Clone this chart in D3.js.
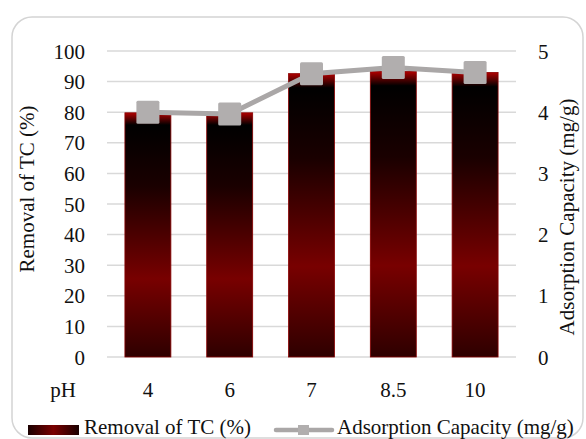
<!DOCTYPE html>
<html>
<head>
<meta charset="utf-8">
<script src="https://cdn.jsdelivr.net/npm/d3@7"></script>
<style>
  html, body { margin: 0; padding: 0; background: #fff; }
  svg { display: block; }
  svg text { font-family: 'Liberation Serif', 'DejaVu Serif', serif !important; fill: #111; }
</style>
</head>
<body>
<svg id="chart" width="586" height="439" font-family="Liberation Serif"></svg>
<script>
// pH values tested
const categories = ["4", "6", "7", "8.5", "10"];
// Removal of TC (%) — bars, left axis
const removal = [79.8, 79.8, 92.6, 93.3, 93.0];
// Adsorption capacity (mg/g) — line, right axis
const capacity = [4.0, 3.97, 4.63, 4.73, 4.65];
const leftTicks = [0, 10, 20, 30, 40, 50, 60, 70, 80, 90, 100];
const rightTicks = [0, 1, 2, 3, 4, 5];

const FONT = "'Liberation Serif', 'DejaVu Serif', serif";
const FS = "21px";
const svg = d3.select("#chart");
const plot = { left: 107, right: 516, top: 51, bottom: 357 };

const x = d3.scaleBand()
  .domain(categories)
  .range([plot.left, plot.right])
  .paddingInner(0.438)
  .paddingOuter(0.219);
const yL = d3.scaleLinear().domain([0, 100]).range([plot.bottom, plot.top]);
const yR = d3.scaleLinear().domain([0, 5]).range([plot.bottom, plot.top]);

const defs = svg.append("defs");
const barGrad = defs.append("linearGradient")
  .attr("id", "barFill").attr("x1", 0).attr("y1", 0).attr("x2", 0).attr("y2", 1);
[[0, "#b00000"], [0.025, "#5a0000"], [0.05, "#000000"], [0.3, "#1a0000"],
 [0.68, "#780000"], [1, "#2e0000"]]
  .forEach(([o, c]) => barGrad.append("stop").attr("offset", o).attr("stop-color", c));

const legGrad = defs.append("linearGradient")
  .attr("id", "legFill").attr("x1", 0).attr("y1", 0).attr("x2", 1).attr("y2", 0);
[[0, "#1a0000"], [0.5, "#7a0000"], [1, "#1a0000"]]
  .forEach(([o, c]) => legGrad.append("stop").attr("offset", o).attr("stop-color", c));

// outer frame
svg.append("rect")
  .attr("x", 12).attr("y", 17).attr("width", 571).attr("height", 421)
  .attr("rx", 20).attr("ry", 20)
  .attr("fill", "none").attr("stroke", "#d4d4d4").attr("stroke-width", 1.5);

// gridlines
svg.append("g")
  .selectAll("line")
  .data(leftTicks)
  .join("line")
  .attr("x1", plot.left).attr("x2", plot.right)
  .attr("y1", d => yL(d)).attr("y2", d => yL(d))
  .attr("stroke", "#d9d9d9").attr("stroke-width", 1.5);

function styleAxis(g) {
  g.attr("font-family", null).attr("font-size", null);
  g.select(".domain").remove();
  g.selectAll("text")
    .attr("font-family", "Liberation Serif")
    .style("font-family", FONT)
    .style("font-size", FS)
    .attr("fill", "#111");
}

// left axis
const axL = svg.append("g")
  .attr("transform", `translate(${plot.left},0)`)
  .call(d3.axisLeft(yL).tickValues(leftTicks).tickFormat(d3.format("d")).tickSize(0).tickPadding(22));
styleAxis(axL);
axL.selectAll("text").attr("dy", "0.34em");

// right axis
const axR = svg.append("g")
  .attr("transform", `translate(${plot.right},0)`)
  .call(d3.axisRight(yR).tickValues(rightTicks).tickFormat(d3.format("d")).tickSize(0).tickPadding(22));
styleAxis(axR);
axR.selectAll("text").attr("dy", "0.34em");

// category axis
const axX = svg.append("g")
  .attr("transform", `translate(0,${plot.bottom})`)
  .call(d3.axisBottom(x).tickSize(0).tickPadding(25));
styleAxis(axX);

function label(sel) {
  return sel.attr("font-family", "Liberation Serif").style("font-family", FONT).style("font-size", FS);
}

label(svg.append("text")
  .attr("x", 63).attr("y", 397).attr("text-anchor", "middle")).text("pH");

// bars
svg.append("g")
  .selectAll("rect")
  .data(removal)
  .join("rect")
  .attr("x", (d, i) => x(categories[i]))
  .attr("width", x.bandwidth())
  .attr("y", d => yL(d))
  .attr("height", d => yL(0) - yL(d))
  .attr("fill", "url(#barFill)")
  .attr("stroke", "#8a0000").attr("stroke-width", 0.8);

// capacity line
const line = d3.line()
  .x((d, i) => x(categories[i]) + x.bandwidth() / 2)
  .y(d => yR(d));
svg.append("path")
  .datum(capacity)
  .attr("d", line)
  .attr("fill", "none").attr("stroke", "#aaa7a7").attr("stroke-width", 5);

const ms = 23;
svg.append("g")
  .selectAll("rect")
  .data(capacity)
  .join("rect")
  .attr("x", (d, i) => x(categories[i]) + x.bandwidth() / 2 - ms / 2)
  .attr("y", d => yR(d) - ms / 2)
  .attr("width", ms).attr("height", ms)
  .attr("rx", 1.5)
  .attr("fill", "#b1aeae");

// axis titles
label(svg.append("text")
  .attr("transform", "translate(34,189) rotate(-90)")
  .attr("text-anchor", "middle")).text("Removal of TC (%)");
label(svg.append("text")
  .attr("transform", "translate(574,217) rotate(-90)")
  .attr("text-anchor", "middle")).text("Adsorption Capacity (mg/g)");

// legend
const leg = svg.append("g");
leg.append("rect")
  .attr("x", 28).attr("y", 425).attr("width", 51).attr("height", 10)
  .attr("fill", "url(#legFill)");
label(leg.append("text")
  .attr("x", 84).attr("y", 434)).text("Removal of TC (%)");
leg.append("line")
  .attr("x1", 276).attr("x2", 332).attr("y1", 430).attr("y2", 430)
  .attr("stroke", "#aaa7a7").attr("stroke-width", 4.5).attr("stroke-linecap", "round");
leg.append("rect")
  .attr("x", 298).attr("y", 425).attr("width", 11).attr("height", 10)
  .attr("fill", "#b1aeae");
label(leg.append("text")
  .attr("x", 337).attr("y", 434)).text("Adsorption Capacity (mg/g)");
</script>
</body>
</html>
